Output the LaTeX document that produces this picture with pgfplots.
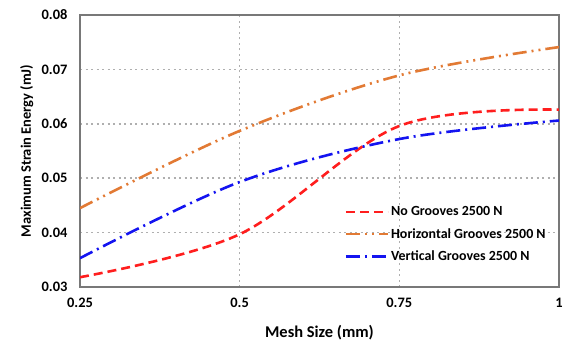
\documentclass[border=0pt]{standalone}
\usepackage{fontspec}
\setmainfont{Carlito}
\usepackage{pgfplots}
\pgfplotsset{compat=1.18}
\definecolor{myred}{RGB}{255,30,30}
\definecolor{myorange}{RGB}{226,122,52}
\definecolor{myblue}{RGB}{20,20,240}
\definecolor{gridgray}{RGB}{175,175,175}
\definecolor{axgray}{RGB}{120,120,120}
\begin{document}
\begin{tikzpicture}
\useasboundingbox (-80bp,-71bp) rectangle (495bp,287bp);
\begin{axis}[
  at={(0,0)}, anchor=south west,
  scale only axis, width=479bp, height=272bp,
  xmin=0.25, xmax=1, ymin=0.03, ymax=0.08,
  scaled y ticks=false, scaled x ticks=false,
  xtick={0.25,0.5,0.75,1}, xticklabels={0.25,0.5,0.75,1},
  ytick={0.03,0.04,0.05,0.06,0.07,0.08},
  yticklabels={0.03,0.04,0.05,0.06,0.07,0.08},
  grid=major,
  major grid style={gridgray, line width=1.6bp, dash pattern=on 2bp off 3.5bp},
  axis line style={axgray, line width=1.8bp},
  tick style={draw=none},
  font=\bfseries\fontsize{14.5}{17}\selectfont,
  xticklabel style={yshift=-8bp},
  yticklabel style={xshift=-9bp},
  xlabel={Mesh Size (mm)},
  ylabel={Maximum Strain Energy (mJ)},
  xlabel style={at={(axis description cs:0.5,-0.169)}, anchor=center, font=\bfseries\fontsize{16.5}{19}\selectfont},
  ylabel style={at={(axis description cs:-0.111,0.5)}, anchor=center},
  legend style={at={(axis cs:0.664,0.0342)}, anchor=south west, draw=none, fill=none,
    font=\bfseries\fontsize{14}{16}\selectfont, row sep=7bp, inner sep=0pt},
  legend cell align=left,
  legend image code/.code={\draw[#1] (0bp,0bp) -- (42bp,0bp);},
]
\addplot[myred, line width=2.6bp, smooth, tension=0.55, dash pattern=on 9bp off 5bp]
  coordinates {(0.25,0.0318) (0.5,0.0397) (0.75,0.0596) (1,0.0626)};
\addlegendentry{No Grooves 2500 N}
\addplot[myorange, line width=2.6bp, smooth, tension=0.55, dash pattern=on 14bp off 5bp on 2bp off 5bp on 2bp off 5bp]
  coordinates {(0.25,0.0445) (0.5,0.0587) (0.75,0.0689) (1,0.0741)};
\addlegendentry{Horizontal Grooves 2500 N}
\addplot[myblue, line width=2.6bp, smooth, tension=0.55, dash pattern=on 14bp off 5bp on 2bp off 5bp]
  coordinates {(0.25,0.0353) (0.5,0.0493) (0.75,0.0572) (1,0.0606)};
\addlegendentry{Vertical Grooves 2500 N}
\end{axis}
\end{tikzpicture}
\end{document}
